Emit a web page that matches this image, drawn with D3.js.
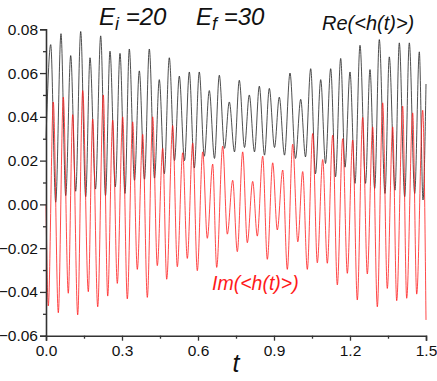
<!DOCTYPE html>
<html>
<head>
<meta charset="utf-8">
<script src="https://cdn.jsdelivr.net/npm/d3@7/dist/d3.min.js"></script>
<style>
  body { margin: 0; background: #fff; }
  svg { display: block; font-family: "Liberation Sans", Arial, sans-serif; }
</style>
</head>
<body>
<div id="wrapper"></div>
<script>
/* DATA: extrema */
const reT = [0, 0.0186, 0.0383, 0.0592, 0.0778, 0.0975, 0.1172, 0.1370, 0.1567, 0.1737, 0.1954,
  0.2159, 0.2349, 0.2526, 0.2736, 0.2921, 0.3118, 0.3288, 0.3493, 0.3683, 0.3888, 0.4078, 0.4283,
  0.4472, 0.4670, 0.4867, 0.5072, 0.5262, 0.5467, 0.5657, 0.5854, 0.6051, 0.6249, 0.6446, 0.6651,
  0.6841, 0.7046, 0.7236, 0.7441, 0.7630, 0.7836, 0.8025, 0.8230, 0.8420, 0.8625, 0.8815, 0.9020,
  0.9209, 0.9415, 0.9632, 0.9849, 1.0054, 1.0243, 1.0449, 1.0638, 1.0844, 1.1033, 1.1238, 1.1428,
  1.1633, 1.1803, 1.2, 1.2197, 1.2395, 1.2612, 1.2789, 1.2975, 1.3157, 1.3382, 1.3551, 1.3776,
  1.3946, 1.4159, 1.4341, 1.4554, 1.4736, 1.4882, 1.5];
const reV = [0.030, 0.073, 0.001, 0.078, 0.004, 0.068, 0.006, 0.079, 0.0035, 0.067, 0.007,
  0.077, 0.004, 0.070, 0.008, 0.069, 0.005, 0.071, 0.011, 0.061, 0.0115, 0.071, 0.012,
  0.057, 0.014, 0.067, 0.020, 0.0586, 0.020, 0.0605, 0.0166, 0.0605, 0.022, 0.052, 0.021,
  0.059, 0.0256, 0.0468, 0.024, 0.0567, 0.026, 0.050, 0.024, 0.054, 0.0225, 0.053, 0.026,
  0.049, 0.0225, 0.060, 0.021, 0.048, 0.0217, 0.062, 0.014, 0.057, 0.0187, 0.062, 0.0126,
  0.0667, 0.017, 0.0605, 0.0096, 0.0727, 0.0096, 0.0616, 0.0073, 0.0753, 0.005, 0.0674, 0.0065,
  0.0738, 0.0035, 0.0738, 0.005, 0.0697, 0.002, 0.055];

const imT = [0, 0.0091, 0.0288, 0.0486, 0.0683, 0.0880, 0.1054, 0.1251, 0.1449, 0.1670, 0.1843,
  0.2041, 0.2262, 0.2436, 0.2633, 0.2814, 0.3028, 0.3209, 0.3422, 0.3604, 0.3817, 0.3999, 0.4212,
  0.4393, 0.4607, 0.4764, 0.5001, 0.5183, 0.5396, 0.5578, 0.5791, 0.5972, 0.6186, 0.6367, 0.6580,
  0.6738, 0.6975, 0.7157, 0.7370, 0.7551, 0.7765, 0.7946, 0.8159, 0.8341, 0.8554, 0.8736, 0.8949,
  0.9130, 0.9344, 0.9525, 0.9738, 0.9940, 1.0133, 1.0315, 1.0528, 1.0709, 1.0923, 1.1104, 1.1317,
  1.1499, 1.1712, 1.1894, 1.2107, 1.2288, 1.2501, 1.2683, 1.2896, 1.3078, 1.3291, 1.3472, 1.3686,
  1.3843, 1.4080, 1.4238, 1.4475, 1.4633, 1.4870, 1.5];
const imV = [0.0, -0.0464, 0.0468, -0.0495, 0.049, -0.0406, 0.041, -0.0505, 0.052, -0.0399, 0.039,
  -0.0468, 0.050, -0.0419, 0.0385, -0.0361, 0.040, -0.0432, 0.0377, -0.0297, 0.032, -0.0425, 0.040,
  -0.028, 0.0256, -0.0342, 0.036, -0.0285, 0.0236, -0.0247, 0.028, -0.0303, 0.024, -0.0155, 0.0184,
  -0.0288, 0.0266, -0.0136, 0.011, -0.0216, 0.024, -0.0175, 0.0105, -0.0145, 0.022, -0.0251, 0.019,
  -0.0117, 0.0157, -0.0297, 0.0275, -0.0171, 0.015, -0.0297, 0.0324, -0.0267, 0.0205, -0.0269, 0.0316,
  -0.0368, 0.030, -0.0315, 0.0294, -0.0437, 0.0397, -0.0318, 0.0354, -0.0468, 0.0464, -0.0384, 0.0354,
  -0.044, 0.0449, -0.0429, 0.0418, -0.041, 0.043, -0.0528];

const xTicks = [0, 0.3, 0.6, 0.9, 1.2, 1.5];
const xMinor = [0.15, 0.45, 0.75, 1.05, 1.35];
const yTicks = [-0.06, -0.04, -0.02, 0, 0.02, 0.04, 0.06, 0.08];
const yMinor = [-0.05, -0.03, -0.01, 0.01, 0.03, 0.05, 0.07];

/* CHART DIMENSIONS */
const dimensions = {
  width: 437,
  height: 381,
  margin: { top: 29.3, right: 11, bottom: 45.3, left: 46 },
};
dimensions.boundedWidth = dimensions.width - dimensions.margin.left - dimensions.margin.right;
dimensions.boundedHeight = dimensions.height - dimensions.margin.top - dimensions.margin.bottom;

/* SCALES */
const xScale = d3.scaleLinear().domain([0, 1.5]).range([0, dimensions.boundedWidth]);
const yScale = d3.scaleLinear().domain([-0.06, 0.08]).range([dimensions.boundedHeight, 0]);

const svg = d3.select('#wrapper').append('svg')
  .attr('width', dimensions.width)
  .attr('height', dimensions.height);

const bounds = svg.append('g')
  .attr('transform', `translate(${dimensions.margin.left},${dimensions.margin.top})`);

/* DRAW DATA */
const line = d3.line()
  .x(d => xScale(d[0]))
  .y(d => yScale(d[1]))
  .curve(d3.curveMonotoneX);

bounds.append('path')
  .attr('d', line(reT.map((t, i) => [t, reV[i]])))
  .attr('fill', 'none')
  .attr('stroke', '#222')
  .attr('stroke-width', 0.8);

bounds.append('path')
  .attr('d', line(imT.map((t, i) => [t, imV[i]])))
  .attr('fill', 'none')
  .attr('stroke', '#ff1a1a')
  .attr('stroke-width', 0.8);

/* AXES */
const axisColor = '#333';
const yAxis = bounds.append('g')
  .call(d3.axisLeft(yScale).tickValues(yTicks).tickSize(6).tickFormat(d3.format('.2f')));
bounds.append('g')
  .call(d3.axisLeft(yScale).tickValues(yMinor).tickSize(3).tickFormat(''))
  .select('.domain').remove();

const xAxis = bounds.append('g')
  .attr('transform', `translate(0,${dimensions.boundedHeight})`)
  .call(d3.axisBottom(xScale).tickValues(xTicks).tickSize(5).tickFormat(d3.format('.1f')));
bounds.append('g')
  .attr('transform', `translate(0,${dimensions.boundedHeight})`)
  .call(d3.axisBottom(xScale).tickValues(xMinor).tickSize(3).tickFormat(''))
  .select('.domain').remove();

bounds.selectAll('.domain').attr('stroke', axisColor).attr('stroke-width', 1.6);
bounds.selectAll('.tick line').attr('stroke', axisColor).attr('stroke-width', 1.3);
bounds.selectAll('.tick text')
  .attr('font-family', '"Liberation Sans", Arial, sans-serif')
  .attr('font-size', 15.5)
  .attr('fill', '#111');
yAxis.selectAll('.tick text').attr('x', -8);
xAxis.selectAll('.tick text').attr('y', 9);

/* LABELS */
const title = svg.append('text')
  .attr('y', 25)
  .attr('font-size', 24)
  .attr('font-style', 'italic')
  .attr('fill', '#111');
title.append('tspan').attr('x', 99).text('E');
title.append('tspan').attr('dy', 5).attr('font-size', 18).text('i');
title.append('tspan').attr('dy', -5).text(' =20');
title.append('tspan').attr('x', 196).text('E');
title.append('tspan').attr('dy', 5).attr('font-size', 18).text('f');
title.append('tspan').attr('dy', -5).text(' =30');

svg.append('text')
  .attr('x', 322).attr('y', 30)
  .attr('font-size', 20)
  .attr('font-style', 'italic')
  .attr('fill', '#111')
  .text('Re(<h(t)>)');

svg.append('text')
  .attr('x', 212).attr('y', 290)
  .attr('font-size', 19.5)
  .attr('font-style', 'italic')
  .attr('fill', '#ff1a1a')
  .text('Im(<h(t)>)');

svg.append('text')
  .attr('x', 236).attr('y', 372)
  .attr('text-anchor', 'middle')
  .attr('font-size', 25)
  .attr('font-style', 'italic')
  .attr('fill', '#111')
  .text('t');
</script>
</body>
</html>
